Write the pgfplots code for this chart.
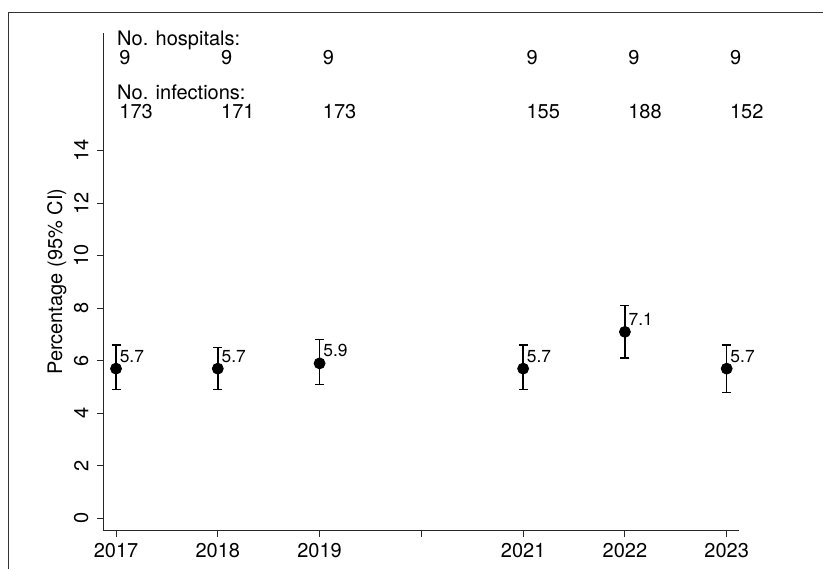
\documentclass[border=0pt]{standalone}
\usepackage{pgfplots}
\pgfplotsset{compat=1.18}
\usepackage{pgfplotstable}
\usepackage{fontspec}
\setmainfont{TeX Gyre Heros}

% year, percentage, 95% CI bounds, number of hospitals, number of infections
\pgfplotstableread{
year pct lo hi hosp inf
2017 5.7 4.9 6.6 9 173
2018 5.7 4.9 6.5 9 171
2019 5.9 5.1 6.8 9 173
2021 5.7 4.9 6.6 9 155
2022 7.1 6.1 8.1 9 188
2023 5.7 4.8 6.6 9 152
}\ratedata

\newcommand\lblfont{\fontsize{10}{12}\selectfont}
\newcommand\valfont{\fontsize{8.7}{10}\selectfont}

\begin{document}
\begin{tikzpicture}
\useasboundingbox (0,0) rectangle (411.5pt,-284.5pt);
% outer frame (left and top edges)
\draw[black!80, line width=0.6pt] (4.15pt,-284.5pt) -- (4.15pt,-6.15pt) -- (411.5pt,-6.15pt);
\begin{axis}[
  at={(51.65pt,-265pt)}, anchor=south west,
  scale only axis, width=318pt, height=248.35pt,
  xmin=2016.875, xmax=2023.124, ymin=-0.446, ymax=18.47,
  axis lines*=left,
  axis line style={black!85, line width=0.5pt},
  tick style={black!85, line width=0.5pt},
  tick align=outside, major tick length=3.3pt,
  xtick={2017,2018,2019,2020,2021,2022,2023},
  xticklabels={2017,2018,2019,,2021,2022,2023},
  ytick={0,2,4,6,8,10,12,14},
  /pgf/number format/assume math mode=true,
  tick label style={font=\lblfont},
  xticklabel style={inner sep=0pt, yshift=-3.3pt},
  yticklabel style={rotate=90, anchor=south, inner xsep=0pt, inner ysep=4pt},
  ylabel={Percentage (95\% CI)},
  every axis y label/.style={at={(axis description cs:-0.0649,0.5)}, rotate=90, anchor=base, font=\lblfont, inner sep=0pt},
  clip=false,
]
% point estimates with confidence intervals
\addplot[only marks, mark=*, mark size=2.75pt, black,
  nodes near coords={\pgfmathprintnumber[fixed,fixed zerofill,precision=1,assume math mode=true]{\pgfplotspointmeta}},
  nodes near coords style={anchor=base west, inner sep=0pt, xshift=1.7pt, yshift=3.2pt, font=\valfont},
  error bars/.cd, y dir=both, y explicit,
  error bar style={line width=0.7pt, black},
  error mark options={rotate=90, line width=0.7pt, mark size=2.25pt, black}]
  table[x=year, y=pct,
        y error plus expr=\thisrow{hi}-\thisrow{pct},
        y error minus expr=\thisrow{pct}-\thisrow{lo}] \ratedata;

% counts above the plot
\node[anchor=base west, inner sep=0pt, font=\lblfont, xshift=0.4pt] at (axis cs:2017,17.99) {No. hospitals:};
\node[anchor=base west, inner sep=0pt, font=\lblfont, xshift=0.4pt] at (axis cs:2017,15.96) {No. infections:};
\addplot[draw=none, mark=none, point meta=explicit symbolic,
  nodes near coords, nodes near coords style={anchor=base west, inner sep=0pt, xshift=1.5pt, font=\lblfont}]
  table[x=year, y expr=17.27, meta=hosp] \ratedata;
\addplot[draw=none, mark=none, point meta=explicit symbolic,
  nodes near coords, nodes near coords style={anchor=base west, inner sep=0pt, xshift=1.5pt, font=\lblfont}]
  table[x=year, y expr=15.24, meta=inf] \ratedata;
\end{axis}
\end{tikzpicture}
\end{document}
